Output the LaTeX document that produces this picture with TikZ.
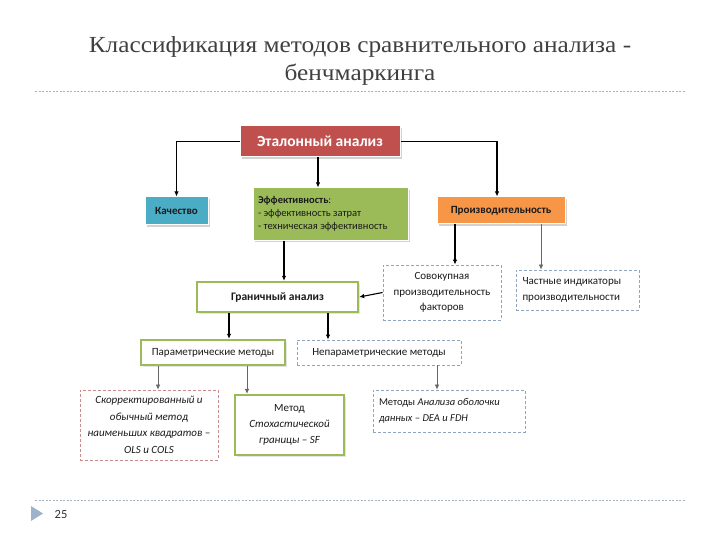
\documentclass[tikz,border=0pt]{standalone}
\usepackage{fontspec}
\setmainfont{Carlito}
\newfontfamily\titlefont[FakeStretch=1.1]{Liberation Serif}
\usetikzlibrary{arrows.meta,shadows,calc}
\definecolor{redbox}{HTML}{C0504D}
\definecolor{bluebox}{HTML}{4BACC6}
\definecolor{greenbox}{HTML}{9BBB59}
\definecolor{orangebox}{HTML}{F79646}
\definecolor{dashblue}{HTML}{8FA5BF}
\definecolor{dashred}{HTML}{C98A8A}
\definecolor{rulegray}{HTML}{A9B4BC}
\definecolor{tri}{HTML}{9DB3C8}
\definecolor{txt}{HTML}{1A1A1A}
\tikzset{
  filledbox/.style={draw=white, line width=1pt, inner sep=2pt, align=center,
    drop shadow={shadow xshift=2pt, shadow yshift=-2pt, opacity=0.35, fill=gray}},
  greenframe/.style={draw=greenbox, line width=2.4pt, fill=white, inner sep=2pt, align=center, text=txt,
    drop shadow={shadow xshift=1.5pt, shadow yshift=-1.5pt, opacity=0.2, fill=gray}},
  dashframe/.style={draw=dashblue, dashed, dash pattern=on 3pt off 2pt, line width=0.8pt, fill=white, inner sep=2pt, text=txt},
  arr/.style={draw=black, line width=1.1pt, -{Latex[length=5pt,width=4.5pt]}},
  thinarr/.style={draw=gray!80!black, line width=0.7pt, -{Latex[length=5pt,width=4.5pt]}}
}
\begin{document}
\begin{tikzpicture}[x=1pt,y=-1pt]
\useasboundingbox (0,0) rectangle (720,540);
\fill[white] (0,0) rectangle (720,540);
% title
\node[font=\titlefont\fontsize{23}{28}\selectfont, text=black!75, align=center] (title) at (360,61)
  {Классификация методов сравнительного анализа -\\бенчмаркинга};
\coordinate (r1a) at (35,91); \coordinate (r1b) at (685,91);
\draw[rulegray, dashed, dash pattern=on 2pt off 1.5pt, line width=0.6pt] (r1a) -- (r1b);
\coordinate (r2a) at (35,500); \coordinate (r2b) at (685,500);
\draw[rulegray, dashed, dash pattern=on 2pt off 1.5pt, line width=0.6pt] (r2a) -- (r2b);
\fill[tri] (31,506) -- (43,513.5) -- (31,521) -- cycle;
\node[font=\fontsize{12.5}{14}\selectfont, text=black!80, inner sep=0] (pnum) at (61,514) {25};

% boxes
\node[filledbox, fill=redbox, text=white, minimum width=160pt, minimum height=31pt,
  font=\bfseries\fontsize{15.5}{18}\selectfont] (etal) at (320,141.5) {Эталонный анализ};
\node[filledbox, fill=bluebox, text=txt, minimum width=63pt, minimum height=28pt,
  font=\bfseries\fontsize{11}{13}\selectfont] (kach) at (176.5,211) {Качество};
\node[filledbox, fill=greenbox, text=txt, minimum width=155pt, minimum height=52pt, align=flush left,
  text width=145pt, font=\fontsize{10.5}{13}\selectfont] (eff) at (330.5,214)
  {\textbf{Эффективность}:\\- эффективность затрат\\- техническая эффективность};
\node[filledbox, fill=orangebox, text=txt, minimum width=128pt, minimum height=27pt,
  font=\bfseries\fontsize{11}{13}\selectfont] (proiz) at (501,210.5) {Производительность};
\node[greenframe, minimum width=161pt, minimum height=30pt,
  font=\bfseries\fontsize{11.5}{13}\selectfont] (gran) at (277.5,297) {Граничный анализ};
\node[dashframe, minimum width=118pt, minimum height=55pt, align=center,
  font=\fontsize{11}{15.5}\selectfont] (sovok) at (442,292.5) {Совокупная\\производительность\\факторов};
\node[dashframe, minimum width=123pt, minimum height=40pt, align=flush left, text width=110pt,
  font=\fontsize{11}{16}\selectfont] (chast) at (577.5,290) {Частные индикаторы\\производительности};
\node[greenframe, minimum width=144pt, minimum height=25pt,
  font=\fontsize{11}{13}\selectfont] (param) at (213,352.5) {Параметрические методы};
\node[dashframe, minimum width=164pt, minimum height=25pt,
  font=\fontsize{11}{13}\selectfont] (neparam) at (379,352.5) {Непараметрические методы};
\node[dashframe, draw=dashred, minimum width=138pt, minimum height=70pt, align=center,
  font=\itshape\fontsize{11}{16.5}\selectfont] (skorr) at (149,425)
  {Скорректированный и\\обычный метод\\наименьших квадратов –\\OLS и COLS};
\node[greenframe, minimum width=109pt, minimum height=60pt,
  font=\fontsize{11}{16}\selectfont] (sf) at (289.5,425)
  {Метод\\\textit{Стохастической}\\\textit{границы – SF}};
\node[dashframe, minimum width=152pt, minimum height=42pt, align=flush left, text width=140pt,
  font=\fontsize{10.5}{16}\selectfont] (dea) at (449,411)
  {Методы \textit{Анализа оболочки}\\\textit{данных – DEA и FDH}};

% connectors
\draw[arr] (etal.west) -| (kach.north);
\draw[arr] (etal.east) -| (proiz.north -| 497,0);
\draw[arr] (etal.south -| 318,0) -- (eff.north -| 318,0);
\draw[arr] (eff.south -| 284,0) -- (gran.north -| 284,0);
\draw[arr] (proiz.south -| 455,0) -- (sovok.north -| 455,0);
\draw[thinarr] (proiz.south -| 541,0) -- (chast.north -| 541,0);
\draw[arr] (sovok.west) -- (gran.east);
\draw[arr] (gran.south -| 229,0) -- (param.north -| 229,0);
\draw[arr] (gran.south -| 328,0) -- (neparam.north -| 328,0);
\draw[thinarr] (param.south -| 158,0) -- (skorr.north -| 158,0);
\draw[thinarr] (param.south -| 247,0) -- (sf.north -| 247,0);
\draw[thinarr] (neparam.south -| 437,0) -- (dea.north -| 437,0);
\end{tikzpicture}
\end{document}
